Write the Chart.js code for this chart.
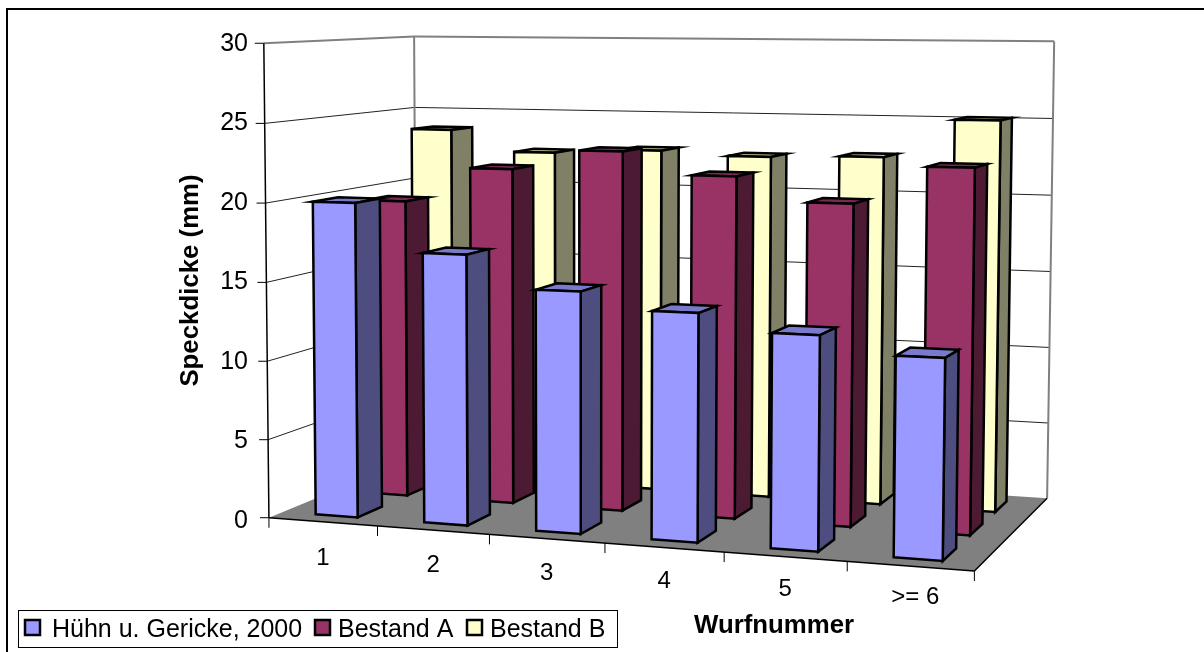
<!DOCTYPE html>
<html>
<head>
<meta charset="utf-8">
<style>body{margin:0;background:#fff}canvas{display:block}</style>
<script src="https://cdn.jsdelivr.net/npm/chart.js@4"></script>
</head>
<body>
<canvas id="myChart" width="1204" height="652"></canvas>
<script>
var categories = ['1', '2', '3', '4', '5', '>= 6'];
var huehn = [20, 17, 15, 14, 13, 12];
var bestandA = [19.5, 21.8, 23.1, 21.7, 20.2, 22.6];
var bestandB = [23.8, 22.4, 22.7, 22.45, 22.6, 25.1];
var yTicks = [0, 5, 10, 15, 20, 25, 30];

var FONT = '"Liberation Sans", Arial, sans-serif';

// corners of the plot box: [u, d, h] -> screen, used to fit the camera
var boxCorners = [
	[0, 0, 0, 270, 519], [1, 0, 0, 973, 570], [1, 1, 0, 1048, 499], [0, 1, 0, 415, 455],
	[0, 0, 1, 263, 42], [0, 1, 1, 415, 38], [1, 1, 1, 1054, 41], [0.5, 0, 0, 606, 544]
];

// least squares fit of a projective camera through the corners
function fitCamera(pts) {
	var n = 11, A = [], i, j, k;
	for (i = 0; i < n; i++) { A.push(new Array(n + 1).fill(0)); }
	function addRow(r, b) {
		for (var a = 0; a < n; a++) {
			for (var c = 0; c < n; c++) { A[a][c] += r[a] * r[c]; }
			A[a][n] += r[a] * b;
		}
	}
	pts.forEach(function (p) {
		var u = p[0], d = p[1], h = p[2], X = p[3], Y = p[4];
		addRow([u, d, h, 1, 0, 0, 0, 0, -X * u, -X * d, -X * h], X);
		addRow([0, 0, 0, 0, u, d, h, 1, -Y * u, -Y * d, -Y * h], Y);
	});
	for (i = 0; i < n; i++) {
		var best = i;
		for (j = i + 1; j < n; j++) { if (Math.abs(A[j][i]) > Math.abs(A[best][i])) { best = j; } }
		var tmp = A[i]; A[i] = A[best]; A[best] = tmp;
		for (j = 0; j < n; j++) {
			if (j === i) { continue; }
			var f = A[j][i] / A[i][i];
			for (k = i; k <= n; k++) { A[j][k] -= f * A[i][k]; }
		}
	}
	return A.map(function (row, r) { return row[n] / row[r]; });
}
var cam = fitCamera(boxCorners);

function project(u, d, h) {
	var w = cam[8] * u + cam[9] * d + cam[10] * h + 1;
	return {
		x: (cam[0] * u + cam[1] * d + cam[2] * h + cam[3]) / w,
		y: (cam[4] * u + cam[5] * d + cam[6] * h + cam[7]) / w
	};
}

function shade(hex, k) {
	var v = parseInt(hex.slice(1), 16);
	return 'rgb(' + Math.round((v >> 16 & 255) * k) + ',' + Math.round((v >> 8 & 255) * k) + ',' + Math.round((v & 255) * k) + ')';
}

function poly(ctx, pts, fill, stroke, lw) {
	ctx.beginPath();
	pts.forEach(function (p, i) { if (i) { ctx.lineTo(p.x, p.y); } else { ctx.moveTo(p.x, p.y); } });
	ctx.closePath();
	if (fill) { ctx.fillStyle = fill; ctx.fill(); }
	if (stroke) { ctx.strokeStyle = stroke; ctx.lineWidth = lw; ctx.lineJoin = 'miter'; ctx.stroke(); }
}

function line(ctx, a, b, color, lw) {
	ctx.beginPath();
	ctx.moveTo(a.x, a.y);
	ctx.lineTo(b.x, b.y);
	ctx.strokeStyle = color;
	ctx.lineWidth = lw;
	ctx.stroke();
}

function rowRange(r) {
	var c = (r + 0.5) / 3;
	return [c - 0.08, c + 0.08];
}

// walls, floor and axis furniture go behind the bars
var boxPlugin = {
	id: 'box',
	beforeDatasetsDraw: function (chart) {
		var ctx = chart.ctx, sy = chart.scales.y, sx = chart.scales.x, area = chart.chartArea;
		ctx.save();
		poly(ctx, [project(0, 0, 0), project(1, 0, 0), project(1, 1, 0), project(0, 1, 0)], '#808080');
		yTicks.forEach(function (v) {
			var h = (area.bottom - sy.getPixelForValue(v)) / area.height;
			if (v > 0 && v < 30) {
				line(ctx, project(0, 0, h), project(0, 1, h), '#222', 1);
				line(ctx, project(0, 1, h), project(1, 1, h), '#222', 1);
			}
			var p = project(0, 0, h);
			line(ctx, { x: p.x - 9, y: p.y }, p, '#000', 1);
		});
		line(ctx, project(0, 0, 1), project(0, 1, 1), '#808080', 2);
		line(ctx, project(0, 1, 1), project(1, 1, 1), '#808080', 2);
		line(ctx, project(0, 1, 1), project(0, 1, 0), '#808080', 2);
		line(ctx, project(1, 1, 1), project(1, 1, 0), '#808080', 2);
		line(ctx, project(0, 0, 1), project(0, 0, 0), '#000', 1.5);
		line(ctx, project(0, 0, 0), project(1, 0, 0), '#000', 1.5);
		line(ctx, project(1, 0, 0), project(1, 1, 0), '#000', 1.5);

		var step = area.width / categories.length;
		ctx.fillStyle = '#000';
		ctx.font = '24px ' + FONT;
		ctx.textAlign = 'center';
		ctx.textBaseline = 'middle';
		for (var i = 0; i <= categories.length; i++) {
			var u = (i * step) / area.width;
			var e = project(u, 0, 0);
			line(ctx, e, { x: e.x, y: e.y + 10 }, '#000', 1);
			if (i < categories.length) {
				var m = project((sx.getPixelForValue(i) - area.left) / area.width, 0, 0);
				ctx.fillText(categories[i], m.x + (i === 5 ? 5 : 0), m.y + 36.5 - i);
			}
		}
		ctx.restore();
	},
	// stock flat bars are replaced by the projected ones below
	beforeDatasetDraw: function () { return false; },
	afterDatasetsDraw: function (chart) {
		var ctx = chart.ctx, area = chart.chartArea;
		ctx.save();
		for (var r = chart.data.datasets.length - 1; r >= 0; r--) {
			var ds = chart.data.datasets[r], meta = chart.getDatasetMeta(r), range = rowRange(r);
			meta.data.forEach(function (bar) {
				var u0 = (bar.x - bar.width / 2 - area.left) / area.width;
				var u1 = (bar.x + bar.width / 2 - area.left) / area.width;
				var h = (area.bottom - bar.y) / area.height;
				var d0 = range[0], d1 = range[1];
				var top = [project(u0, d0, h), project(u1, d0, h), project(u1, d1, h), project(u0, d1, h)];
				poly(ctx, top, shade(ds.backgroundColor, 0.8), '#000', 2.5);
				poly(ctx, [project(u1, d0, 0), project(u1, d1, 0), project(u1, d1, h), project(u1, d0, h)], shade(ds.backgroundColor, 0.5), '#000', 2.5);
				poly(ctx, [project(u0, d0, 0), project(u1, d0, 0), project(u1, d0, h), project(u0, d0, h)], ds.backgroundColor, '#000', 2.5);
			});
		}
		ctx.restore();
	},
	afterDraw: function (chart) {
		var ctx = chart.ctx;
		ctx.save();
		// outer rule, open on the right and at the bottom
		ctx.strokeStyle = '#000';
		ctx.lineWidth = 2;
		ctx.beginPath();
		ctx.moveTo(7, 652);
		ctx.lineTo(7, 9);
		ctx.lineTo(1204, 9);
		ctx.stroke();

		ctx.fillStyle = '#000';
		ctx.font = 'bold 25.8px ' + FONT;
		ctx.textAlign = 'left';
		ctx.textBaseline = 'middle';
		ctx.fillText('Wurfnummer', 694, 626);

		// legend
		ctx.fillStyle = '#fff';
		ctx.fillRect(18, 610, 599, 37);
		ctx.lineWidth = 1;
		ctx.strokeRect(18.5, 610.5, 599, 37);
		var boxX = [25, 315, 467], textX = [52, 338, 490];
		ctx.font = '25px ' + FONT;
		chart.data.datasets.forEach(function (ds, i) {
			ctx.fillStyle = ds.backgroundColor;
			ctx.fillRect(boxX[i], 620, 15, 15);
			ctx.lineWidth = 2.5;
			ctx.strokeRect(boxX[i], 620, 15, 15);
			ctx.fillStyle = '#000';
			ctx.fillText(ds.label, textX[i], 630);
		});
		ctx.restore();
	}
};

var ctx = document.getElementById('myChart').getContext('2d');
Chart.defaults.font.family = FONT;
Chart.defaults.color = '#000';
var myChart = new Chart(ctx, {
	type: 'bar',
	data: {
		labels: categories,
		datasets: [
			{ label: 'Hühn u. Gericke, 2000', backgroundColor: '#9999FF', borderColor: '#000', data: huehn },
			{ label: 'Bestand A', backgroundColor: '#993366', borderColor: '#000', data: bestandA },
			{ label: 'Bestand B', backgroundColor: '#FFFFCC', borderColor: '#000', data: bestandB }
		]
	},
	options: {
		responsive: false,
		animation: false,
		layout: { padding: { top: 42, right: 231, left: 0, bottom: 0 } },
		plugins: { legend: { display: false }, tooltip: { enabled: false } },
		datasets: { bar: { grouped: false, barPercentage: 0.39, categoryPercentage: 1 } },
		scales: {
			x: {
				grid: { display: false },
				border: { display: false },
				ticks: { display: false },
				afterFit: function (scale) { scale.height = 133; }
			},
			y: {
				min: 0,
				max: 30,
				ticks: { stepSize: 5, padding: 22, labelOffset: 2, font: { size: 25 }, callback: function (v) { return yTicks.indexOf(v) >= 0 ? String(v) : ''; } },
				grid: { display: false, drawTicks: false },
				border: { display: false },
				title: { display: true, text: 'Speckdicke (mm)', font: { size: 25.8, weight: 'bold' }, padding: { top: 175, bottom: 0 } },
				afterFit: function (scale) { scale.width = 270; }
			}
		}
	},
	plugins: [boxPlugin]
});
</script>
</body>
</html>
